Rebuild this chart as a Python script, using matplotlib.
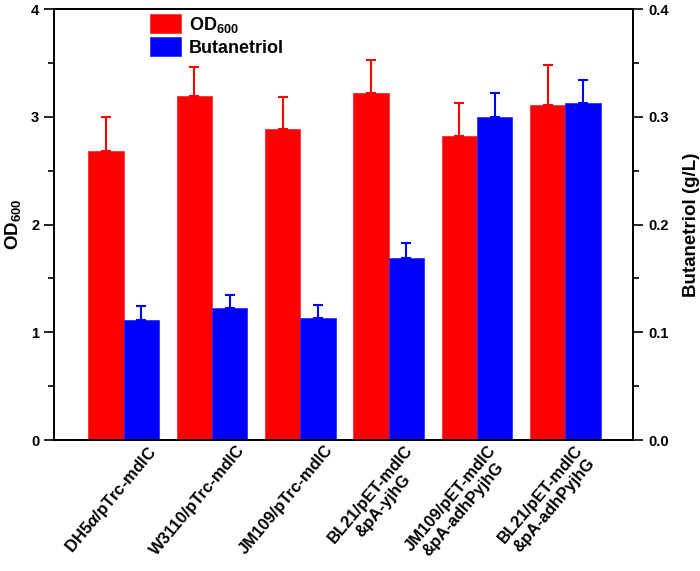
import numpy as np
import matplotlib
matplotlib.use("Agg")
import matplotlib.pyplot as plt
from matplotlib.ticker import MultipleLocator
from matplotlib.transforms import ScaledTranslation

plt.rcParams['font.family'] = ['Liberation Sans', 'DejaVu Sans']
plt.rcParams['font.weight'] = 'bold'
plt.rcParams['axes.labelweight'] = 'bold'
plt.rcParams['mathtext.fontset'] = 'custom'
plt.rcParams['mathtext.rm'] = 'Liberation Sans:bold'
plt.rcParams['mathtext.bf'] = 'Liberation Sans:bold'
plt.rcParams['mathtext.it'] = 'Liberation Sans:bold:italic'

# strains
strains = ["DH5$\\it{α}$/pTrc-mdlC", "W3110/pTrc-mdlC", "JM109/pTrc-mdlC",
           "BL21/pET-mdlC\n&pA-yjhG", "JM109/pET-mdlC\n&pA-adhPyjhG",
           "BL21/pET-mdlC\n&pA-adhPyjhG"]

od600 = [2.68, 3.19, 2.885, 3.22, 2.82, 3.11]
od600_err = [0.32, 0.27, 0.30, 0.31, 0.31, 0.375]

butanetriol = [0.111, 0.123, 0.113, 0.169, 0.300, 0.313]
butanetriol_err = [0.013, 0.012, 0.012, 0.014, 0.022, 0.021]

x = np.arange(len(strains))
w = 0.4

fig = plt.figure(figsize=(7, 5.71), dpi=100)
ax = fig.add_axes([0.077, 0.2294, 0.828, 0.7546])
ax2 = ax.twinx()

b1 = ax.bar(x - w/2, od600, w, color='#ff0000', edgecolor='#ff3030', linewidth=0.6,
            label='OD$_{600}$', zorder=2)
ax.errorbar(x - w/2, od600, yerr=[np.zeros(len(x)), od600_err], fmt='none',
            ecolor='#ff0000', elinewidth=1.5, capsize=3.3, capthick=1.5, zorder=3)

b2 = ax2.bar(x + w/2, butanetriol, w, color='#0000ff', edgecolor='#3030ff', linewidth=0.6,
             label='Butanetriol', zorder=2)
ax2.errorbar(x + w/2, butanetriol, yerr=[np.zeros(len(x)), butanetriol_err], fmt='none',
             ecolor='#0000ff', elinewidth=1.5, capsize=3.3, capthick=1.5, zorder=3)

ax.set_xlim(-0.79, 5.77)
ax.set_ylim(0, 4)
ax2.set_ylim(0, 0.4)

ax.yaxis.set_major_locator(MultipleLocator(1))
ax.yaxis.set_minor_locator(MultipleLocator(0.5))
ax2.yaxis.set_major_locator(MultipleLocator(0.1))
ax2.yaxis.set_minor_locator(MultipleLocator(0.05))
ax2.yaxis.set_major_formatter(plt.FormatStrFormatter('%.1f'))

for a in (ax, ax2):
    a.tick_params(axis='y', which='major', direction='out', length=7, width=1.2,
                  labelsize=10.5)
    a.tick_params(axis='y', which='minor', direction='out', length=4, width=1.2)
    for s in a.spines.values():
        s.set_linewidth(1.3)

ax.set_xticks(x)
ax.set_xticklabels(strains, rotation=50, ha='right', va='top', rotation_mode='anchor',
                   multialignment='center', fontsize=12)
ax.tick_params(axis='x', length=0, pad=2)

# label offsets (px) to follow the original's placement
shifts = [23, 24, 24, 15, 10, 9]
for lbl, dx in zip(ax.get_xticklabels(), shifts):
    lbl.set_transform(lbl.get_transform() + ScaledTranslation(dx / 100, 0, fig.dpi_scale_trans))

ax.set_ylabel('OD$_{600}$', fontsize=13.5, labelpad=6)
ax2.set_ylabel('Butanetriol (g/L)', fontsize=13.5, labelpad=10)

ax.legend([b1, b2], ['OD$_{600}$', 'Butanetriol'], loc='upper left',
          bbox_to_anchor=(0.153, 1.005), frameon=False, fontsize=13,
          handlelength=1.75, handleheight=1.2, handletextpad=0.4, labelspacing=0.15,
          borderaxespad=0)

fig.savefig('out.png', dpi=100)
